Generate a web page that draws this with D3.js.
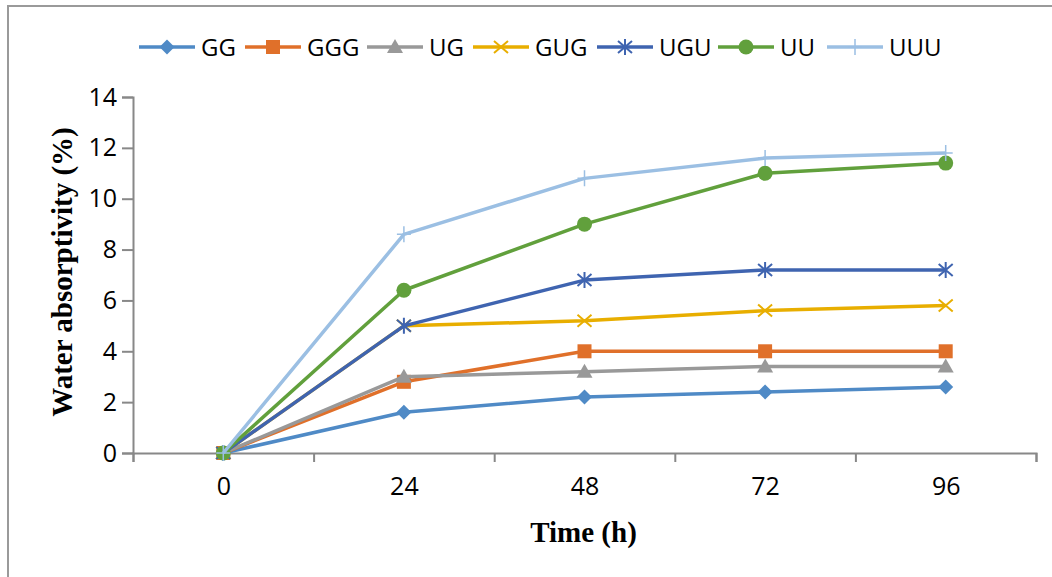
<!DOCTYPE html>
<html>
<head>
<meta charset="utf-8">
<script src="https://cdn.jsdelivr.net/npm/d3@7"></script>
<style>
  body { margin: 0; background: #fff; }
</style>
</head>
<body>
<script>
// time points (h)
var hours = ['0', '24', '48', '72', '96']
var seriesNames = ['GG', 'GGG', 'UG', 'GUG', 'UGU', 'UU', 'UUU']
var seriesColors = ['#4f8ac6', '#e0702a', '#999999', '#e8ae00', '#3f64b0', '#61a03c', '#9bbfe3']
var seriesValues = [
	[0, 1.6, 2.2, 2.4, 2.6],
	[0, 2.8, 4.0, 4.0, 4.0],
	[0, 3.0, 3.2, 3.4, 3.4],
	[0, 5.0, 5.2, 5.6, 5.8],
	[0, 5.0, 6.8, 7.2, 7.2],
	[0, 6.4, 9.0, 11.0, 11.4],
	[0, 8.6, 10.8, 11.6, 11.8]
]
var yTicks = [0, 2, 4, 6, 8, 10, 12, 14]
var markerTypes = ['diamond', 'square', 'triangle', 'x', 'asterisk', 'circle', 'plus']

var W = 1052, H = 577
var svg = d3.select('body').append('svg').attr('width', W).attr('height', H)

// outer chart frame (cut off on right/bottom in the reference)
svg.append('rect').attr('x', 8).attr('y', 6).attr('width', W + 20).attr('height', H + 20)
	.attr('fill', 'none').attr('stroke', '#9a9a9a').attr('stroke-width', 2)

var plotLeft = 133, plotRight = 1036, plotTop = 97, plotBottom = 453

var x = d3.scaleLinear().domain([-0.5, hours.length - 0.5]).range([plotLeft, plotRight])
var y = d3.scaleLinear().domain([0, 14]).range([plotBottom, plotTop])

var tickFont = "'Open Sans', sans-serif"

// y axis
var gy = svg.append('g').attr('transform', `translate(${plotLeft},0)`)
	.call(d3.axisLeft(y).tickValues(yTicks).tickSize(11).tickPadding(5))
gy.selectAll('path, line').attr('stroke', '#888').attr('stroke-width', 2)
gy.selectAll('text').attr('font-family', tickFont).attr('font-size', 25).attr('fill', '#000')

// x axis: boundary ticks
var boundaries = d3.range(hours.length + 1).map(function(i) { return i - 0.5 })
var gx = svg.append('g').attr('transform', `translate(0,${plotBottom})`)
	.call(d3.axisBottom(x).tickValues(boundaries).tickSize(9).tickFormat('').tickSizeOuter(9))
gx.selectAll('path, line').attr('stroke', '#888').attr('stroke-width', 2)

// x labels at category centers
var gxl = svg.append('g').attr('transform', `translate(0,${plotBottom})`)
	.call(d3.axisBottom(x).tickValues(d3.range(hours.length)).tickSize(0).tickPadding(24)
		.tickFormat(function(d) { return hours[d] }))
gxl.select('path').remove()
gxl.selectAll('text').attr('font-family', tickFont).attr('font-size', 25).attr('fill', '#000')

// axis titles
svg.append('text').text('Time (h)')
	.attr('x', (plotLeft + plotRight) / 2 - 1).attr('y', 542)
	.attr('text-anchor', 'middle')
	.attr('font-family', "'Liberation Serif', serif").attr('font-weight', 'bold').attr('font-size', 29)

svg.append('text').text('Water absorptivity (%)')
	.attr('transform', `translate(72,${(plotTop + plotBottom) / 2 - 3}) rotate(-90)`)
	.attr('text-anchor', 'middle')
	.attr('font-family', "'Liberation Serif', serif").attr('font-weight', 'bold').attr('font-size', 29)

function drawMarker(g, type, color) {
	if (type === 'diamond') {
		g.append('path').attr('d', 'M0,-7.5L7.5,0L0,7.5L-7.5,0Z').attr('fill', color)
	} else if (type === 'square') {
		g.append('rect').attr('x', -7).attr('y', -7).attr('width', 14).attr('height', 14).attr('fill', color)
	} else if (type === 'triangle') {
		g.append('path').attr('d', 'M0,-8L8,6L-8,6Z').attr('fill', color)
	} else if (type === 'x') {
		g.append('path').attr('d', 'M-7,-6L7,6M-7,6L7,-6').attr('stroke', color).attr('stroke-width', 2)
	} else if (type === 'asterisk') {
		g.append('path').attr('d', 'M-7,-6L7,6M-7,6L7,-6M0,-8L0,8').attr('stroke', color).attr('stroke-width', 2)
	} else if (type === 'circle') {
		g.append('circle').attr('r', 7.5).attr('fill', color)
	} else if (type === 'plus') {
		g.append('path').attr('d', 'M-7,0L7,0M0,-8L0,8').attr('stroke', color).attr('stroke-width', 1.5)
	}
}

var line = d3.line().x(function(d, i) { return x(i) }).y(function(d) { return y(d) })

var plot = svg.append('g')
seriesValues.forEach(function(vals, s) {
	plot.append('path').datum(vals).attr('d', line)
		.attr('fill', 'none').attr('stroke', seriesColors[s]).attr('stroke-width', 3.5)
		.attr('stroke-linejoin', 'round')
	vals.forEach(function(v, i) {
		var m = plot.append('g').attr('transform', `translate(${x(i)},${y(v)})`)
		drawMarker(m, markerTypes[s], seriesColors[s])
	})
})

// legend
var legendX = [139, 245, 367, 473, 597, 718, 827]
var legend = svg.append('g').attr('transform', 'translate(0,47)')
seriesNames.forEach(function(name, s) {
	var g = legend.append('g').attr('transform', `translate(${legendX[s]},0)`)
	g.append('line').attr('x1', 0).attr('x2', 56).attr('y1', 0).attr('y2', 0)
		.attr('stroke', seriesColors[s]).attr('stroke-width', 3.5)
	var m = g.append('g').attr('transform', 'translate(28,0)')
	drawMarker(m, markerTypes[s], seriesColors[s])
	g.append('text').text(name).attr('x', 62).attr('y', 9)
		.attr('font-family', tickFont).attr('font-size', 24).attr('fill', '#000')
})
</script>
</body>
</html>
